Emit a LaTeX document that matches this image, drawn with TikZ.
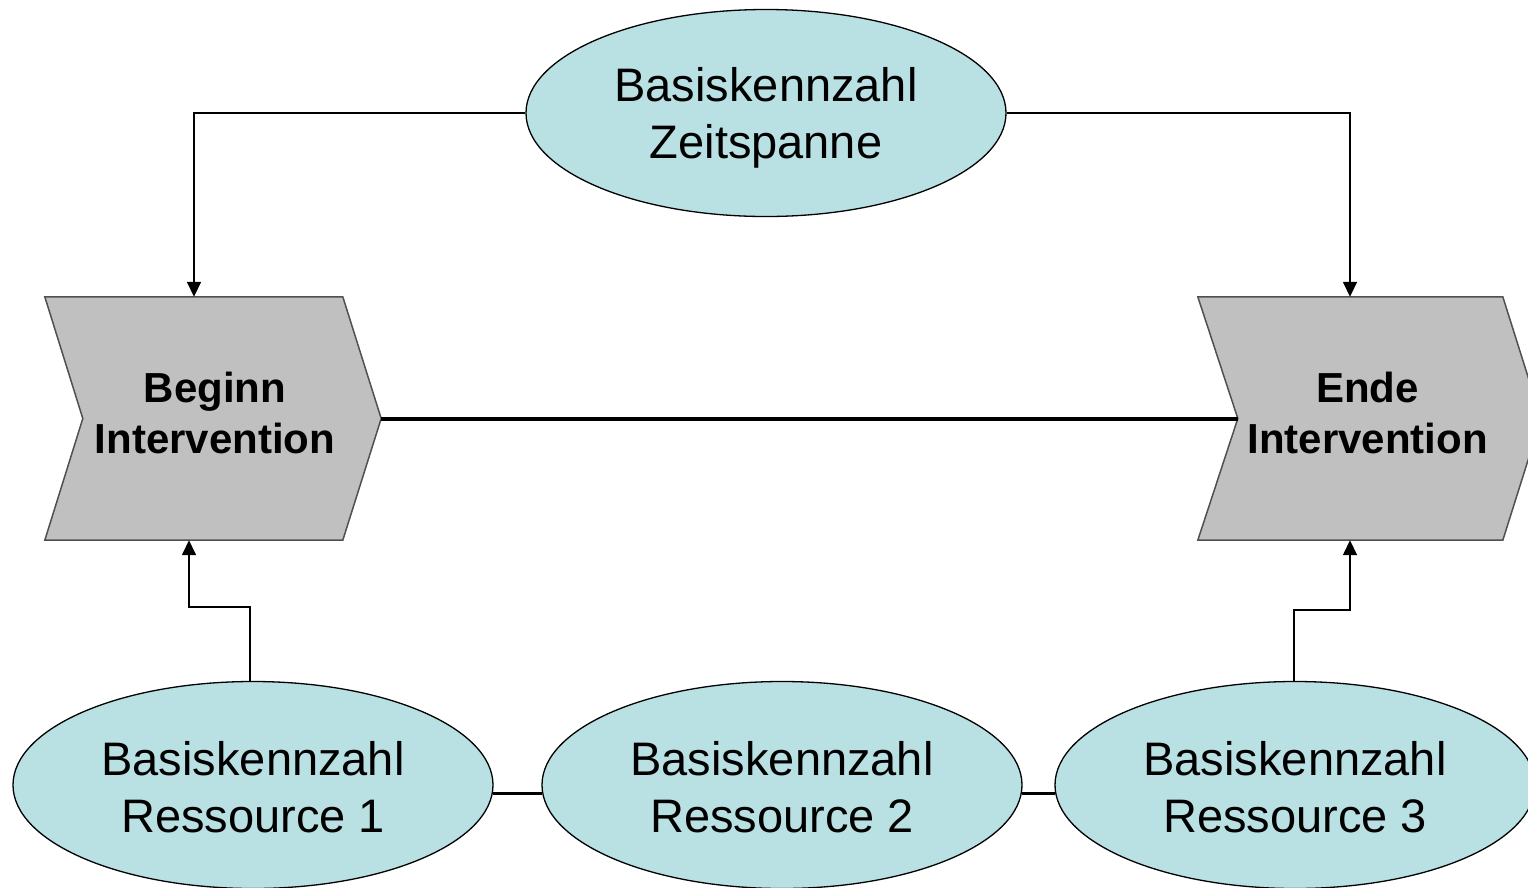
\documentclass[tikz,border=0pt]{standalone}
\usepackage{fontspec}
\setmainfont{Liberation Sans}
\usetikzlibrary{shapes.geometric,arrows.meta,calc}
\definecolor{kennfill}{RGB}{185,224,227}
\definecolor{stepfill}{RGB}{192,192,192}
\definecolor{stepline}{RGB}{80,80,80}
\begin{document}
\begin{tikzpicture}[x=1pt,y=-1pt,
  kenn/.style={ellipse,draw=black,line width=1.3pt,fill=kennfill,
    minimum width=480pt,minimum height=207pt,inner sep=0pt},
  kenntext/.style={align=center,inner sep=0pt,font=\fontsize{47}{57}\selectfont},
  stepbox/.style={rectangle,draw=none,minimum width=#1,minimum height=243pt,
    inner sep=0pt,align=center,font=\bfseries\fontsize{42}{51}\selectfont},
  chevron/.style={fill=stepfill,draw=stepline,line width=1.5pt,line join=miter},
  arr/.style={draw=black,line width=1.6pt,-{Triangle[length=15pt,width=14pt]}},
  link/.style={draw=black,line width=3pt}]
\useasboundingbox (0,0) rectangle (1528,887);
\clip (0,0) rectangle (1528,887);

% process steps (text boxes; the chevron outline is drawn around them)
\node[stepbox=336pt] (beg) at (213,418.5) {};
\node[stepbox=343pt] (ende) at (1369.5,418.5) {};
\path[chevron] (beg.north west) -- ($(beg.north west)+(298,0)$) -- (beg.east)
  -- ($(beg.south west)+(298,0)$) -- (beg.south west) -- ($(beg.west)+(38,0)$) -- cycle;
\path[chevron] (ende.north west) -- ($(ende.north west)+(305,0)$) -- (ende.east)
  -- ($(ende.south west)+(305,0)$) -- (ende.south west) -- ($(ende.west)+(40,0)$) -- cycle;
\node[stepbox=336pt,xshift=2pt,yshift=6pt] at (beg) {Beginn\\Intervention};
\node[stepbox=343pt,xshift=-2pt,yshift=6pt] at (ende) {Ende\\Intervention};

% key figures
\node[kenn] (zeit) at (766,113) {};
\node[kenn] (r1) at (253,785) {};
\node[kenn] (r2) at (782,785) {};
\node[kenn] (r3) at (1295,785) {};
\node[kenntext] at ([yshift=-5pt]zeit) {Basiskennzahl\\Zeitspanne};
\node[kenntext] at ([yshift=-2pt]r1) {Basiskennzahl\\Ressource 1};
\node[kenntext] at ([yshift=-2pt]r2) {Basiskennzahl\\Ressource 2};
\node[kenntext] at ([yshift=-2pt]r3) {Basiskennzahl\\Ressource 3};

% connectors
\draw[line width=4pt] (beg.east) -- ($(ende.west)+(40,0)$);
\draw[arr] (zeit.west) -| ([xshift=-19pt]beg.north);
\draw[arr] (zeit.east) -| ([xshift=-19.5pt]ende.north);
\draw[arr] ([xshift=-3pt]r1.north) -- ++(0,-74) -| ([xshift=-24pt]beg.south);
\draw[arr] ([xshift=-1pt]r3.north) -- ++(0,-71) -| ([xshift=-19.5pt]ende.south);
\draw[link] (r1.-2) -- (r2.182);
\draw[link] (r2.-2) -- (r3.182);
\end{tikzpicture}
\end{document}
